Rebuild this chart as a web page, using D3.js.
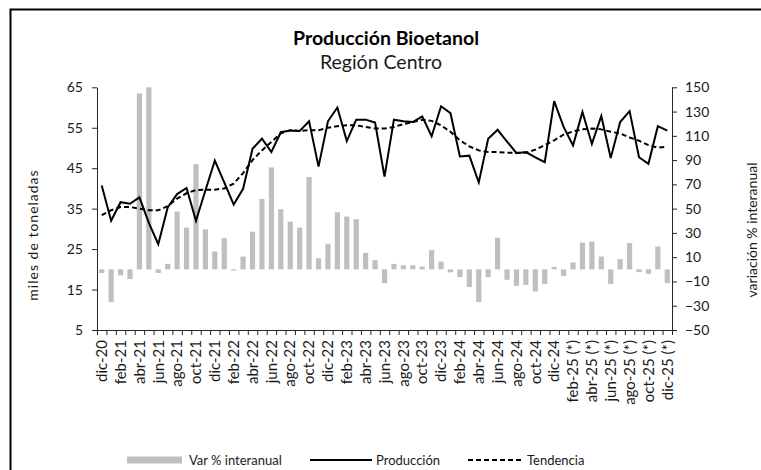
<!DOCTYPE html>
<html>
<head>
<meta charset="utf-8">
<script src="https://cdn.jsdelivr.net/npm/d3@7"></script>
<style>
  html, body { margin: 0; padding: 0; background: #fff; }
  svg { display: block; font-family: Lato, "Open Sans", sans-serif; }
</style>
</head>
<body>
<svg id="chart" width="761" height="470"></svg>
<script>
const categories = [
  "dic-20",
  "ene-21","feb-21","mar-21","abr-21","may-21","jun-21","jul-21","ago-21","sep-21","oct-21","nov-21","dic-21",
  "ene-22","feb-22","mar-22","abr-22","may-22","jun-22","jul-22","ago-22","sep-22","oct-22","nov-22","dic-22",
  "ene-23","feb-23","mar-23","abr-23","may-23","jun-23","jul-23","ago-23","sep-23","oct-23","nov-23","dic-23",
  "ene-24","feb-24","mar-24","abr-24","may-24","jun-24","jul-24","ago-24","sep-24","oct-24","nov-24","dic-24",
  "ene-25 (*)","feb-25 (*)","mar-25 (*)","abr-25 (*)","may-25 (*)","jun-25 (*)","jul-25 (*)","ago-25 (*)","sep-25 (*)","oct-25 (*)","nov-25 (*)","dic-25 (*)"
];

const produccion = [
  40.7, 32, 36.6, 36.2, 37.8, 31.5, 26.2, 35.3, 38.6, 40.1,
  32, 39.5, 46.9, 41.5, 36, 39.9, 49.8, 52.3, 49, 53.9,
  54.3, 54.2, 56.6, 45.4, 56.6, 60, 51.7, 57, 57, 56.3,
  42.9, 57, 56.6, 56.4, 57.8, 52.9, 60.3, 58.6, 47.9, 48.1,
  41.5, 52.3, 54.5, 51.6, 48.7, 49, 47.7, 46.5, 61.6, 55.2,
  50.6, 58.9, 51, 57.9, 47.5, 56.4, 59.1, 47.7, 46.1, 55.4, 54.3
];

const tendencia = [
  33.4, 34.6, 35.4, 35.4, 35, 34.6, 34.6, 35.6, 37.5, 38.8,
  39.6, 39.7, 39.7, 40, 41.2, 43.8, 47, 49.4, 51.5, 53.6,
  54.4, 54.2, 54.4, 54.4, 55, 55.4, 55.6, 55.6, 55.2, 54.8,
  54.8, 55.2, 55.9, 56.4, 57, 56.7, 55.6, 54, 51.9, 50.4,
  49.4, 49, 49, 48.8, 48.8, 48.8, 49.6, 50.7, 51.9, 53.3,
  54.1, 54.6, 54.8, 54.6, 54, 53.6, 52.6, 51.8, 50.7, 50.1, 50.3
];

const varInteranual = [
  -3, -27, -5, -8, 145, 160, -3, 4.5, 47.6, 34.4,
  86.6, 33, 14.7, 25.7, -1, 10.5, 31, 58, 84, 49.5,
  39.3, 34.4, 76, 9.2, 21, 47, 43.5, 41.3, 13.6, 7.5,
  -11.4, 4.5, 3.4, 3.4, 2.3, 15.8, 6.4, -2.5, -6.4, -14.6,
  -27, -6.4, 26, -8.6, -13.6, -12.8, -18.3, -12, 2, -5.5,
  5.6, 22, 22.9, 10.5, -12, 8.4, 21.6, -2.3, -3.7, 18.8, -11.4
];

const leftTicks = [5, 15, 25, 35, 45, 55, 65];
const rightTicks = [-50, -30, -10, 10, 30, 50, 70, 90, 110, 130, 150];

const title = "Producción Bioetanol";
const subtitle = "Región Centro";
const leftTitle = "miles de toneladas";
const rightTitle = "variación % interanual";
const legendLabels = ["Var % interanual", "Producción", "Tendencia"];

const svg = d3.select("#chart");
const L = 97, R = 672, T = 87.3, B = 330;
const textColor = "#1a1a1a";
const axisColor = "#262626";
const barColor = "#bfbfbf";

// border
svg.append("path")
  .attr("d", `M10.5,470 L10.5,9.5 L761,9.5`)
  .attr("fill", "none").attr("stroke", "#000").attr("stroke-width", 2);

const idx = d3.range(categories.length);
const xBand = d3.scaleBand().domain(idx).range([L, R]).paddingInner(0.45).paddingOuter(0.225);
const xLin = d3.scaleLinear().domain([0, categories.length]).range([L, R]);
const xc = i => xBand(i) + xBand.bandwidth() / 2;
const yL = d3.scaleLinear().domain([5, 65]).range([B, T]);
const yR = d3.scaleLinear().domain([-50, 150]).range([B, T]);

svg.append("clipPath").attr("id", "clip")
  .append("rect").attr("x", L).attr("y", T).attr("width", R - L).attr("height", B - T);

// bars
svg.append("g").attr("clip-path", "url(#clip)")
  .selectAll("rect").data(varInteranual).join("rect")
  .attr("x", (d, i) => xBand(i))
  .attr("width", xBand.bandwidth())
  .attr("y", d => yR(Math.max(0, d)))
  .attr("height", d => Math.abs(yR(d) - yR(0)))
  .attr("fill", barColor);

// lines
const lineL = d3.line().x((d, i) => xc(i)).y(d => yL(d));
svg.append("path").datum(tendencia).attr("d", lineL)
  .attr("fill", "none").attr("stroke", "#000").attr("stroke-width", 2)
  .attr("stroke-dasharray", "5,3");
svg.append("path").datum(produccion).attr("d", lineL)
  .attr("fill", "none").attr("stroke", "#000").attr("stroke-width", 2)
  .attr("stroke-linejoin", "miter");

// axes
function styleAxis(g) {
  g.select(".domain").attr("stroke", axisColor);
  g.selectAll(".tick line").attr("stroke", axisColor);
  g.selectAll("text").attr("fill", textColor).style("font-family", "Lato, sans-serif");
}
const gL = svg.append("g").attr("transform", `translate(${L},0)`)
  .call(d3.axisLeft(yL).tickValues(leftTicks).tickSize(5).tickSizeOuter(0).tickPadding(9));
styleAxis(gL); gL.selectAll("text").style("font-size", "14px");

const gR = svg.append("g").attr("transform", `translate(${R},0)`)
  .call(d3.axisRight(yR).tickValues(rightTicks).tickSize(5).tickSizeOuter(0).tickPadding(8));
styleAxis(gR); gR.selectAll("text").style("font-size", "14px");

const gXt = svg.append("g").attr("transform", `translate(0,${B})`)
  .call(d3.axisBottom(xLin).tickValues(d3.range(categories.length + 1)).tickFormat("").tickSize(5).tickSizeOuter(0));
styleAxis(gXt);

const gX = svg.append("g").attr("transform", `translate(0,${B})`)
  .call(d3.axisBottom(xBand).tickValues(idx.filter(i => i % 2 === 0)).tickFormat(i => categories[i]).tickSize(0));
gX.select(".domain").remove();
gX.selectAll("text")
  .attr("fill", textColor).style("font-size", "15px").style("font-family", "Lato, sans-serif")
  .attr("transform", "rotate(-90)")
  .attr("text-anchor", "end")
  .attr("x", -10).attr("y", 0).attr("dy", "0.35em");

// titles
svg.append("text").attr("x", 386).attr("y", 45).attr("text-anchor", "middle")
  .style("font-size", "19.5px").style("font-weight", "bold").attr("fill", "#000").text(title);
svg.append("text").attr("x", 381).attr("y", 69).attr("text-anchor", "middle")
  .style("font-size", "19.5px").attr("fill", textColor).text(subtitle);

svg.append("text").attr("transform", "translate(38,235) rotate(-90)").attr("text-anchor", "middle")
  .style("font-size", "14px").style("letter-spacing", "1px").attr("fill", textColor).text(leftTitle);
svg.append("text").attr("transform", "translate(757,230) rotate(-90)").attr("text-anchor", "middle")
  .style("font-size", "14px").attr("fill", textColor).text(rightTitle);

// legend
const lg = svg.append("g");
const ly = 460;
const lfs = "13px";
lg.append("rect").attr("x", 127).attr("y", ly - 3.5).attr("width", 55).attr("height", 7).attr("fill", barColor);
lg.append("text").attr("x", 189).attr("y", ly).attr("dy", "0.35em").style("font-size", lfs).attr("fill", textColor).text(legendLabels[0]);
lg.append("line").attr("x1", 310).attr("x2", 372).attr("y1", ly).attr("y2", ly).attr("stroke", "#000").attr("stroke-width", 2);
lg.append("text").attr("x", 376).attr("y", ly).attr("dy", "0.35em").style("font-size", lfs).attr("fill", textColor).text(legendLabels[1]);
lg.append("line").attr("x1", 468).attr("x2", 522).attr("y1", ly).attr("y2", ly).attr("stroke", "#000").attr("stroke-width", 2).attr("stroke-dasharray", "5,3");
lg.append("text").attr("x", 527).attr("y", ly).attr("dy", "0.35em").style("font-size", lfs).attr("fill", textColor).text(legendLabels[2]);
</script>
</body>
</html>
